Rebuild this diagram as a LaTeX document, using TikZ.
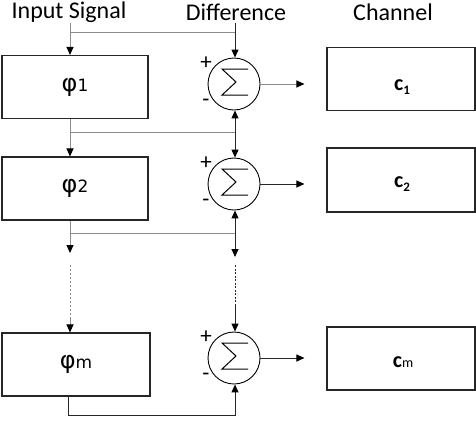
\documentclass[tikz,border=0pt]{standalone}
\usepackage{fontspec}
\setmainfont{Carlito}
\newfontfamily\dvfont{DejaVu Sans}
\usetikzlibrary{arrows.meta,calc}
\begin{document}
\begin{tikzpicture}[x=1pt,y=-1pt,
  hdr/.style={font=\fontsize{24}{26}\selectfont, inner sep=0pt},
  phibox/.style={draw=black!85, line width=1.1pt, minimum width=146pt, minimum height=63pt, inner sep=0pt, font=\dvfont\fontsize{24}{26}\selectfont},
  chbox/.style={draw=black!85, line width=1.1pt, minimum width=148pt, minimum height=63pt, inner sep=0pt},
  chtext/.style={anchor=base, inner sep=0pt, font=\bfseries\fontsize{22}{24}\selectfont},
  sumnode/.style={draw=black, line width=0.9pt, circle, minimum size=52pt, inner sep=0pt},
  gline/.style={draw=black!45, line width=1pt},
  kline/.style={draw=black!85, line width=1pt},
  arr/.style={-{Triangle[length=8pt,width=7pt,color=black]}},
  sgn/.style={font=\fontsize{23}{23}\selectfont, inner sep=0pt}
]
\useasboundingbox (0,0) rectangle (476,426);

% headers
\node[hdr] (insig) at (69,12) {Input Signal};
\node[hdr] (diff) at (236,12) {Difference};
\node[hdr] (chan) at (393,12) {Channel};

% boxes
\node[phibox] (p1) at (75,87) {φ{\fontsize{17}{17}\selectfont 1}};
\node[phibox] (p2) at (75,188.5) {φ{\fontsize{17}{17}\selectfont 2}};
\node[phibox, minimum width=148pt] (pm) at (76,364.5) {φ{\fontsize{17}{17}\selectfont m}};

\node[chbox] (c1) at (401,79) {};
\node[chbox, minimum height=64pt] (c2) at (401,180) {};
\node[chbox] (cm) at (401,358.5) {};
\node[chtext] (c1t) at (402,90) {c\raisebox{-0.45ex}{\fontsize{13}{13}\selectfont 1}};
\node[chtext] (c2t) at (402,187) {c\raisebox{-0.45ex}{\fontsize{13}{13}\selectfont 2}};
\node[chtext] (cmt) at (403,367) {c{\fontsize{14}{14}\mdseries\selectfont m}};

% summing junctions
\foreach \n/\yy in {s1/84, s2/184, sm/358}{
  \node[sumnode] (\n) at (234,\yy) {};
  \draw[line width=1pt, line join=miter] ($(\n)+(14,-15)$) -- ($(\n)+(-12,-15)$) -- ($(\n)+(2,-2)$) -- ($(\n)+(-12,11)$) -- ($(\n)+(14,11)$);
  \node[sgn] at ($(\n)+(-28,-21)$) {+};
  \node[sgn] at ($(\n)+(-28,19)$) {-};
}

% coordinates
\coordinate (in0) at (70,23);
\coordinate (d0) at (235,23);
\coordinate (j0) at (70,32);
\coordinate (k0) at (235,32);
\coordinate (j1) at (70,132);
\coordinate (k1) at (235,132);
\coordinate (j2) at (70,233);
\coordinate (k2) at (235,233);
\coordinate (a2) at (70,253);
\coordinate (b2) at (235,257);
\coordinate (a3) at (70,265);
\coordinate (a4) at (70,318);
\coordinate (b3) at (235,265);
\coordinate (b4) at (235,305);
\coordinate (jm) at (68,415);
\coordinate (km) at (235,415);

% input feed
\draw[gline, arr] (in0) -- (p1.north -| in0);
\draw[gline] (j0) -- (k0);
\draw[kline, arr] (d0) -- (s1.north -| d0);

% after phi1
\draw[gline, arr] (p1.south -| j1) -- (p2.north -| j1);
\draw[gline] (j1) -- (k1);
\draw[kline, arr] (k1) -- (s1.south -| k1);
\draw[kline, arr] (k1) -- (s2.north -| k1);

% after phi2
\draw[gline, arr] (p2.south -| j2) -- (a2);
\draw[gline] (j2) -- (k2);
\draw[kline, arr] (k2) -- (s2.south -| k2);
\draw[kline, arr] (k2) -- (b2);

% continuation
\draw[gline, dash pattern=on 2pt off 2pt] (a3) -- (a4);
\draw[gline, arr] (a4) -- (pm.north -| a4);
\draw[kline, dash pattern=on 2pt off 1.5pt] (b3) -- (b4);
\draw[kline, arr] (b4) -- (sm.north -| b4);

% after phim
\draw[kline, arr] (pm.south -| jm) -- (jm) -- (km) -- (sm.south -| km);

% outputs
\draw[gline, arr] (s1.east) -- ++(44,0);
\draw[kline, arr] (s2.east) -- ++(44,0);
\draw[kline, arr] (sm.east) -- ++(44,0);
\end{tikzpicture}
\end{document}
